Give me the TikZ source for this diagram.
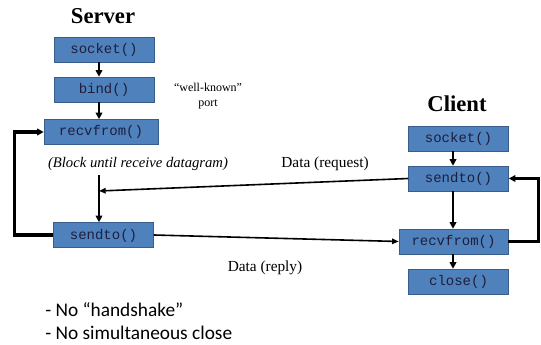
\documentclass[tikz,border=0pt]{standalone}
\usepackage{fontspec}
\setmainfont{Liberation Serif}
\newfontfamily\codefont{Liberation Mono}
\newfontfamily\notefont{Carlito}
\usetikzlibrary{arrows.meta, positioning}
\definecolor{boxblue}{RGB}{79,129,189}
\definecolor{boxedge}{RGB}{56,93,138}
\definecolor{codetext}{RGB}{30,30,60}

\begin{document}
\begin{tikzpicture}[x=0.75pt, y=-0.75pt,
	call/.style={draw=boxedge, fill=boxblue, text=codetext, font=\codefont\fontsize{10.5}{12}\selectfont,
		minimum width=75pt, minimum height=18.75pt, inner sep=0pt, text depth=0pt, text height=6pt},
	title/.style={font=\bfseries\fontsize{17}{20}\selectfont},
	flow/.style={-{Triangle[length=5pt,width=5pt]}, line width=1.5pt},
	loopback/.style={-{Triangle[length=5pt,width=5pt]}, line width=2.3pt},
	msg/.style={-{Triangle[length=5pt,width=4pt]}, line width=1.2pt}]
		\useasboundingbox (0,0) rectangle (541,345);
		% Server side
		\node[title] (server) at (103,16) {Server};
		\node[call] (ssock) at (104,49.5) {socket()};
		\node[call] (sbind) at (104,89.5) {bind()};
		\node[call, minimum width=85.5pt] (srecv) at (101,132) {recvfrom()};
		\node[call] (ssend) at (103.5,235) {sendto()};
		\node[align=center, font=\fontsize{9}{11.25}\selectfont] (port) at (208,96) {``well-known''\\port};
		\node[font=\itshape\fontsize{11}{13}\selectfont] (block) at (138,164) {(Block until receive datagram)};
		\coordinate (saxis) at (99,0);
		\coordinate (sjoin) at (99,191);

		\draw[flow] (saxis |- ssock.south) -- (saxis |- sbind.north);
		\draw[flow] (saxis |- sbind.south) -- (saxis |- srecv.north);
		\draw[flow] (saxis |- block.south) -- (saxis |- ssend.north);
		\draw[loopback] (ssend.west) -- ++(-39,0) |- (srecv.west);

		% Client side
		\node[title] (client) at (457,104) {Client};
		\node[call] (csock) at (458.5,138.5) {socket()};
		\node[call] (csend) at (458.5,178.5) {sendto()};
		\node[call, minimum width=81.75pt] (crecv) at (453.5,241.5) {recvfrom()};
		\node[call] (cclose) at (458.5,281.5) {close()};
		\coordinate (caxis) at (453,0);

		\draw[flow] (caxis |- csock.south) -- (caxis |- csend.north);
		\draw[flow] (caxis |- csend.south) -- (caxis |- crecv.north);
		\draw[flow] (caxis |- crecv.south) -- (caxis |- cclose.north);
		\draw[loopback] (crecv.east) -- ++(30,0) |- (csend.east);

		% Datagrams
		\draw[msg] (csend.west) -- (sjoin);
		\draw[msg] (ssend.east) -- (crecv.west);
		\node[font=\fontsize{11.5}{13}\selectfont] (req) at (325,164) {Data (request)};
		\node[font=\fontsize{11.5}{13}\selectfont] (rep) at (265,268) {Data (reply)};

		% Notes
		\node[anchor=west, font=\notefont\fontsize{14.5}{16}\selectfont, inner sep=0pt] (note1) at (45,310) {- No “handshake”};
		\node[anchor=west, font=\notefont\fontsize{14.5}{16}\selectfont, inner sep=0pt] (note2) at (45,333) {- No simultaneous close};
	\end{tikzpicture}
\end{document}
